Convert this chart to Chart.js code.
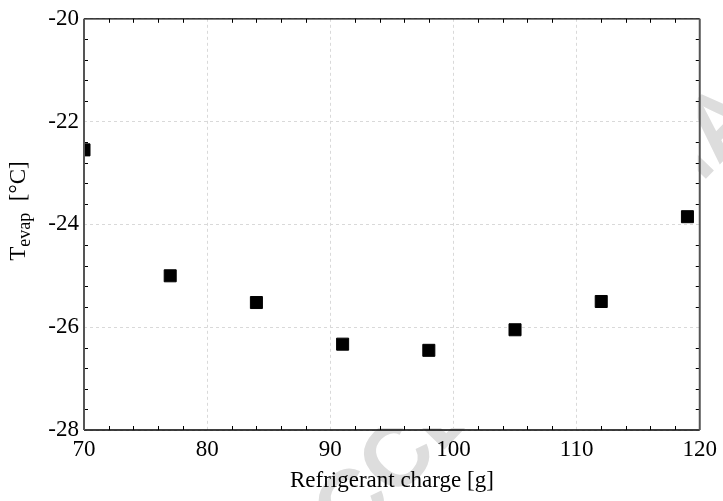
<!DOCTYPE html>
<html><head><meta charset="utf-8">
<script src="https://cdn.jsdelivr.net/npm/chart.js@4.4.0/dist/chart.umd.min.js"></script>
<style>html,body{margin:0;padding:0;background:#fff}canvas{display:block}</style>
</head><body>
<canvas id="c" width="723" height="501"></canvas>
<script>
const charge = [70, 77, 84, 91, 98, 105, 112, 119];
const tEvap = [-22.55, -25.0, -25.52, -26.33, -26.45, -26.05, -25.5, -23.85];
const xRange = [70, 120];
const yRange = [-28, -20];
const xTitle = 'Refrigerant charge [g]';
const yTitleMain = 'T', yTitleSub = 'evap', yTitleUnit = '[°C]';
const watermark = 'ACCEPTED MANUSCRIPT';
const FONT = "'Liberation Serif', 'Times New Roman', serif";
Chart.defaults.font.family = FONT;

const deco = {
  id: 'deco',
  beforeDraw(chart) {
    const {ctx, chartArea: a} = chart;
    ctx.save();
    ctx.fillStyle = '#fff';
    ctx.fillRect(0, 0, chart.width, chart.height);
    ctx.beginPath();
    ctx.rect(0, 0, chart.width, chart.height);
    ctx.rect(a.left + 2, a.top + 2, a.right - a.left - 4, a.bottom - a.top - 4);
    ctx.clip('evenodd');
    ctx.translate(676, 174);
    ctx.rotate(-46 * Math.PI / 180);
    ctx.font = "bold 90px 'Liberation Sans', Arial, sans-serif";
    ctx.fillStyle = '#dddddd';
    ctx.textAlign = 'center';
    ctx.textBaseline = 'middle';
    ctx.fillText(watermark, 0, 0);
    ctx.restore();
  },
  afterDraw(chart) {
    const {ctx, chartArea: a} = chart;
    const xs = chart.scales.x, ys = chart.scales.y;
    ctx.save();
    ctx.strokeStyle = '#000';
    ctx.lineWidth = 1;
    ctx.beginPath();
    for (let i = 0; i <= 25; i++) {
      if (i % 5 === 0) continue;
      const px = Math.round(xs.getPixelForValue(xRange[0] + 2 * i)) + 0.5;
      ctx.moveTo(px, a.bottom); ctx.lineTo(px, a.bottom - 4);
      ctx.moveTo(px, a.top); ctx.lineTo(px, a.top + 4);
    }
    for (let i = 0; i <= 20; i++) {
      if (i % 5 === 0) continue;
      const py = Math.round(ys.getPixelForValue(yRange[0] + 0.4 * i)) + 0.5;
      ctx.moveTo(a.left, py); ctx.lineTo(a.left + 4, py);
      ctx.moveTo(a.right, py); ctx.lineTo(a.right - 4, py);
    }
    ctx.stroke();
    ctx.strokeStyle = '#000';
    ctx.lineWidth = 1.3;
    ctx.beginPath();
    ctx.moveTo(a.left, a.top); ctx.lineTo(a.right, a.top);
    ctx.moveTo(a.left, a.bottom); ctx.lineTo(a.right, a.bottom);
    ctx.stroke();
    ctx.strokeStyle = '#555';
    ctx.lineWidth = 2;
    ctx.beginPath();
    ctx.moveTo(a.left, a.top); ctx.lineTo(a.left, a.bottom);
    ctx.moveTo(a.right, a.top); ctx.lineTo(a.right, a.bottom);
    ctx.stroke();
    const mainF = '23px ' + FONT, subF = '18px ' + FONT;
    ctx.fillStyle = '#000';
    ctx.textBaseline = 'alphabetic';
    ctx.textAlign = 'left';
    ctx.font = mainF; const wT = ctx.measureText(yTitleMain).width;
    ctx.font = subF; const wS = ctx.measureText(yTitleSub).width;
    ctx.font = mainF; const gap = ctx.measureText('  ').width; const wU = ctx.measureText(yTitleUnit).width;
    const total = wT + wS + gap + wU;
    ctx.translate(25, 211);
    ctx.rotate(-Math.PI / 2);
    let x0 = -total / 2;
    ctx.font = mainF; ctx.fillText(yTitleMain, x0, 0); x0 += wT;
    ctx.font = subF; ctx.fillText(yTitleSub, x0, 5); x0 += wS + gap;
    ctx.font = mainF; ctx.fillText(yTitleUnit, x0, 0);
    ctx.restore();
  }
};

new Chart(document.getElementById('c'), {
  type: 'scatter',
  data: {
    datasets: [{
      data: charge.map((c, i) => ({x: c, y: tEvap[i]})),
      pointStyle: 'rect',
      radius: 8.5,
      hoverRadius: 8.5,
      backgroundColor: '#000',
      borderColor: '#000',
      borderWidth: 1
    }]
  },
  options: {
    responsive: false,
    animation: false,
    events: [],
    layout: {padding: 0},
    plugins: {legend: {display: false}, tooltip: {enabled: false}},
    scales: {
      x: {
        type: 'linear', position: 'bottom', min: xRange[0], max: xRange[1],
        ticks: {stepSize: 10, color: '#000', font: {family: FONT, size: 23}, padding: 6, maxRotation: 0},
        grid: {color: '#d9d9d9', lineWidth: 1, drawTicks: false},
        border: {display: false, dash: [3, 3]},
        title: {display: true, text: xTitle, color: '#000', font: {family: FONT, size: 23}, padding: {top: 0, bottom: 6}},
        afterFit(s) { s.height = 71; }
      },
      x2: {
        type: 'linear', position: 'top', min: xRange[0], max: xRange[1],
        ticks: {display: false}, grid: {display: false, drawTicks: false}, border: {display: false},
        afterFit(s) { s.height = 16; }
      },
      y: {
        type: 'linear', position: 'left', min: yRange[0], max: yRange[1],
        ticks: {stepSize: 2, color: '#000', font: {family: FONT, size: 23}, padding: 5, callback: v => String(v)},
        grid: {color: '#d9d9d9', lineWidth: 1, drawTicks: false},
        border: {display: false, dash: [3, 3]},
        afterFit(s) { s.width = 84; }
      },
      y2: {
        type: 'linear', position: 'right', min: yRange[0], max: yRange[1],
        ticks: {display: false}, grid: {display: false, drawTicks: false}, border: {display: false},
        afterFit(s) { s.width = 21; }
      }
    }
  },
  plugins: [deco]
});
</script>
</body></html>
